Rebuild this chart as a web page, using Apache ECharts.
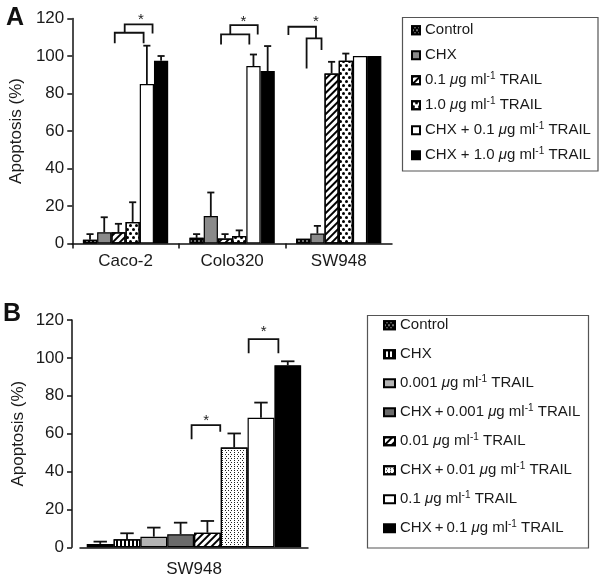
<!DOCTYPE html>
<html><head><meta charset="utf-8">
<script src="https://cdn.jsdelivr.net/npm/echarts@6/dist/echarts.min.js"></script>
<style>html,body{margin:0;padding:0;background:#fff}#c{width:600px;height:581px}</style>
</head><body><div id="c"></div>
<script>
// ---------- Panel A data ----------
const catsA = ['Caco-2', 'Colo320', 'SW948'];
const namesA = ['Control', 'CHX', '0.1 μg ml-1 TRAIL', '1.0 μg ml-1 TRAIL', 'CHX + 0.1 μg ml-1 TRAIL', 'CHX + 1.0 μg ml-1 TRAIL'];
const aControl      = [2, 3, 2.5];
const aCHX          = [6, 14.6, 5.3];
const aTrail01      = [6, 2.7, 90.7];
const aTrail10      = [11.5, 4, 97.4];
const aCHXTrail01   = [85, 94.6, 100];
const aCHXTrail10   = [97.5, 92, 100];
const aControlErr    = [3, 2, 0];
const aCHXErr        = [8, 12.6, 4.1];
const aTrail01Err    = [4.5, 2.3, 6.2];
const aTrail10Err    = [10.5, 3, 3.9];
const aCHXTrail01Err = [20.5, 6.2, 0];
const aCHXTrail10Err = [2.5, 13.3, 0];
// significance brackets: [category, x-start (bar units), x-end, top value, left leg end, right leg end]
const bracketsA = [
  [0, 2.24, 4.27, 112.4, 106.8, 106.8],
  [0, 2.94, 4.90, 116.9, 112.4, 112.0],
  [1, 2.22, 4.21, 111.5, 106.2, 106.2],
  [1, 2.87, 4.80, 116.5, 111.5, 111.5],
  [2, -0.54, 1.40, 115.6, 111.2, 109.4],
  [2, 0.74, 1.79, 109.4, 93.4, 103.2]
];
const starsA = [[0, 4.08, 119.4], [1, 3.80, 118], [2, 1.40, 118]];

// ---------- Panel B data ----------
const catsB = ['SW948'];
const namesB = ['Control\u200B', 'CHX\u200B', '0.001 μg ml-1 TRAIL', 'CHX\u2009+\u20090.001 μg ml-1 TRAIL', '0.01 μg ml-1 TRAIL', 'CHX\u2009+\u20090.01 μg ml-1 TRAIL', '0.1 μg ml-1 TRAIL\u200B', 'CHX\u2009+\u20090.1 μg ml-1 TRAIL'];
const bValues = [1.8, 4.2, 5.6, 6.9, 7.7, 52.7, 68.4, 96.1];
const bErrors = [1.2, 3.2, 4.8, 6.1, 6.2, 7.4, 8.0, 2.1];
const bracketsB = [
  [0, 3.91, 4.98, 64.5, 57, 61],
  [0, 6.04, 7.15, 109.9, 102.4, 102.4]
];
const starsB = [[0, 4.45, 67], [0, 6.6, 114]];

// ---------- styles ----------
const FONT = "'Liberation Sans', Arial, Helvetica, sans-serif";
const TXT = '#1a1a1a';
const hatch = {symbol: 'rect', color: '#000', dashArrayX: [1, 0], dashArrayY: [2, 2.5], rotation: -Math.PI / 4};
const blobs = {symbol: 'circle', color: '#000', symbolSize: 1, dashArrayX: [[2.5, 2.5], [0, 2.5, 2.5, 0]], dashArrayY: [2.5, 0.5]};
const whiteDots = {symbol: 'circle', color: '#fff', symbolSize: 0.8, dashArrayX: [[2, 2], [0, 2, 2, 0]], dashArrayY: [2, 1]};
const vstripes = {symbol: 'rect', color: '#000', dashArrayX: [1.5, 2], dashArrayY: [1, 0]};
const stipple = {symbol: 'rect', color: '#222', dashArrayX: [[1, 2], [0, 1.5, 1, 0.5]], dashArrayY: [1, 1]};
const styleA = [
  {color: '#000', decal: whiteDots},
  {color: '#8a8a8a'},
  {color: '#fff', decal: hatch},
  {color: '#fff', decal: blobs},
  {color: '#fff'},
  {color: '#000'}
];
const styleB = [
  {color: '#000', decal: whiteDots},
  {color: '#fff', decal: vstripes},
  {color: '#b3b3b3'},
  {color: '#6a6a6a'},
  {color: '#fff', decal: hatch},
  {color: '#fff', decal: stipple},
  {color: '#fff'},
  {color: '#000'}
];
const GAP_A = 0.2, GAP_B = 0.06;

function barCenter(api, cat, k, n, gap) {
  const cw = api.size([1, 0])[0];
  const bw = cw * (1 - gap) / n;
  const start = api.coord([cat, 0])[0] - bw * n / 2;
  return {x: start + bw * k, bw: bw};
}
function errRender(n, gap) {
  return function (params, api) {
    const cat = api.value(0), k = api.value(1), v = api.value(2), e = api.value(3);
    const p = barCenter(api, cat, k + 0.5, n, gap);
    const y0 = api.coord([cat, v])[1], y1 = api.coord([cat, v + e])[1];
    const hw = p.bw * 0.25;
    return {type: 'group', children: [
      {type: 'line', shape: {x1: p.x, y1: y0, x2: p.x, y2: y1}, style: {stroke: '#111', lineWidth: 1.8}},
      {type: 'line', shape: {x1: p.x - hw, y1: y1, x2: p.x + hw, y2: y1}, style: {stroke: '#111', lineWidth: 1.8}}
    ]};
  };
}
function bracketRender(n, gap) {
  return function (params, api) {
    const cat = api.value(0);
    const a = barCenter(api, cat, api.value(1), n, gap).x;
    const b = barCenter(api, cat, api.value(2), n, gap).x;
    const yt = api.coord([cat, api.value(3)])[1];
    const yl = api.coord([cat, api.value(4)])[1];
    const yr = api.coord([cat, api.value(5)])[1];
    return {type: 'polyline', shape: {points: [[a, yl], [a, yt], [b, yt], [b, yr]]},
      style: {stroke: '#111', lineWidth: 1.8, fill: null}};
  };
}
function starRender(n, gap) {
  return function (params, api) {
    const cat = api.value(0);
    const x = barCenter(api, cat, api.value(1), n, gap).x;
    const y = api.coord([cat, api.value(2)])[1];
    return {type: 'text', style: {text: '*', x: x, y: y, align: 'center', verticalAlign: 'middle',
      font: "15px " + FONT, fill: '#222'}};
  };
}

const valsA = [aControl, aCHX, aTrail01, aTrail10, aCHXTrail01, aCHXTrail10];
const errsA = [aControlErr, aCHXErr, aTrail01Err, aTrail10Err, aCHXTrail01Err, aCHXTrail10Err];
const errDataA = [];
valsA.forEach((vals, s) => vals.forEach((v, c) => { if (errsA[s][c] > 0) errDataA.push([c, s, v, errsA[s][c]]); }));
const errDataB = [];
bValues.forEach((v, s) => { if (bErrors[s] > 0) errDataB.push([0, s, v, bErrors[s]]); });

const series = [];
namesA.forEach((n, i) => series.push({
  type: 'bar', name: n, xAxisIndex: 0, yAxisIndex: 0, data: valsA[i],
  barGap: '0%', barCategoryGap: (GAP_A * 100) + '%',
  itemStyle: Object.assign({borderColor: '#000', borderWidth: 1.2}, styleA[i]), z: 2
}));
namesB.forEach((n, i) => series.push({
  type: 'bar', name: n, xAxisIndex: 1, yAxisIndex: 1, data: [bValues[i]],
  barGap: '0%', barCategoryGap: (GAP_B * 100) + '%',
  itemStyle: Object.assign({borderColor: '#000', borderWidth: 1.2}, styleB[i]), z: 2
}));
series.push({type: 'custom', xAxisIndex: 0, yAxisIndex: 0, data: errDataA, encode: {x: 0, y: 2}, renderItem: errRender(6, GAP_A), z: 4, clip: false, silent: true});
series.push({type: 'custom', xAxisIndex: 1, yAxisIndex: 1, data: errDataB, encode: {x: 0, y: 2}, renderItem: errRender(8, GAP_B), z: 4, clip: false, silent: true});
series.push({type: 'custom', xAxisIndex: 0, yAxisIndex: 0, data: bracketsA, encode: {x: 0, y: 3}, renderItem: bracketRender(6, GAP_A), z: 4, clip: false, silent: true});
series.push({type: 'custom', xAxisIndex: 1, yAxisIndex: 1, data: bracketsB, encode: {x: 0, y: 3}, renderItem: bracketRender(8, GAP_B), z: 4, clip: false, silent: true});
series.push({type: 'custom', xAxisIndex: 0, yAxisIndex: 0, data: starsA, encode: {x: 0, y: 2}, renderItem: starRender(6, GAP_A), z: 4, clip: false, silent: true});
series.push({type: 'custom', xAxisIndex: 1, yAxisIndex: 1, data: starsB, encode: {x: 0, y: 2}, renderItem: starRender(8, GAP_B), z: 4, clip: false, silent: true});

const axisLineStyle = {lineStyle: {color: '#111', width: 1.5}};
function yAxis(gridIndex, offset) {
  return {
    type: 'value', gridIndex: gridIndex, min: 0, max: 120, interval: 20, offset: offset,
    name: 'Apoptosis (%)', nameLocation: 'middle', nameGap: 45,
    nameTextStyle: {fontSize: 17, color: TXT, fontFamily: FONT},
    axisLine: Object.assign({show: true}, axisLineStyle),
    axisTick: {show: true, length: 5, lineStyle: {color: '#111', width: 1.5}},
    axisLabel: {fontSize: 17, color: TXT, fontFamily: FONT, margin: 8},
    splitLine: {show: false}
  };
}
const legendText = {fontSize: 15, color: TXT, fontFamily: FONT, lineHeight: 18,
  rich: {
    mu: {fontStyle: 'italic', fontSize: 15, lineHeight: 18, fontFamily: FONT, color: TXT},
    sup: {fontSize: 10, lineHeight: 10, padding: [0, 0, 8, 0], fontFamily: FONT, color: TXT}
  }};
function fmt(name) {
  return name.replace(/\u200B/g, '').replace('μ', '{mu|μ}').replace('-1', '{sup|-1}');
}

const option = {
  animation: false,
  backgroundColor: '#fff',
  grid: [
    {left: 72, top: 18.5, width: 320, height: 225},
    {left: 80, top: 320, width: 228, height: 227.3}
  ],
  xAxis: [
    {type: 'category', gridIndex: 0, data: catsA,
      axisLine: axisLineStyle, axisTick: {show: true, length: 5, interval: 0, lineStyle: {color: '#111', width: 1.5}},
      axisLabel: {fontSize: 17, color: TXT, fontFamily: FONT, margin: 9}},
    {type: 'category', gridIndex: 1, data: catsB,
      axisLine: axisLineStyle, axisTick: {show: false},
      axisLabel: {fontSize: 17, color: TXT, fontFamily: FONT, margin: 14}}
  ],
  yAxis: [yAxis(0, 0), yAxis(1, 8)],
  legend: [
    {data: namesA, orient: 'vertical', left: 411, top: 21.2, itemWidth: 8, itemHeight: 8, itemGap: 7,
      icon: 'rect', selectedMode: false, textStyle: legendText, formatter: fmt, padding: 0},
    {data: namesB, orient: 'vertical', left: 383, top: 316.2, itemWidth: 11, itemHeight: 8, itemGap: 11,
      icon: 'rect', selectedMode: false, textStyle: legendText, formatter: fmt, padding: 0}
  ],
  graphic: [
    {type: 'rect', shape: {x: 402.5, y: 17.5, width: 195.5, height: 153.5}, style: {fill: null, stroke: '#555', lineWidth: 1.2}, silent: true},
    {type: 'rect', shape: {x: 367.5, y: 315.5, width: 221, height: 232.5}, style: {fill: null, stroke: '#555', lineWidth: 1.2}, silent: true},
    {type: 'text', left: 6, top: 6, style: {text: 'A', font: "bold 25px " + FONT, fill: '#111'}},
    {type: 'text', left: 3, top: 302, style: {text: 'B', font: "bold 25px " + FONT, fill: '#111'}}
  ],
  series: series
};
const chart = echarts.init(document.getElementById('c'));
chart.setOption(option);
</script>
</body></html>
